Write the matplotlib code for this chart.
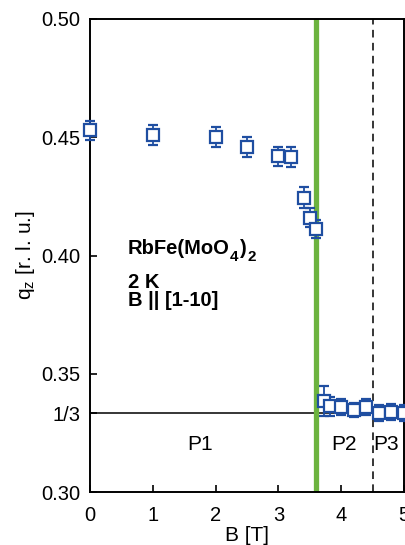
import matplotlib
matplotlib.use('Agg')
import matplotlib.pyplot as plt

plt.rcParams['font.family'] = ['Liberation Sans', 'DejaVu Sans']
plt.rcParams['mathtext.fontset'] = 'custom'
plt.rcParams['mathtext.rm'] = 'Liberation Sans'
plt.rcParams['mathtext.bf'] = 'Liberation Sans:bold'

# field B [T], q_z [r.l.u.], error
field = [0.0, 1.0, 2.0, 2.5, 3.0, 3.2, 3.4, 3.5, 3.6,
         3.73, 3.82, 4.0, 4.2, 4.4, 4.6, 4.8, 5.0]
qz = [0.4530, 0.4510, 0.4500, 0.4460, 0.4420, 0.4415, 0.4245, 0.4160, 0.4110,
      0.3385, 0.3362, 0.3358, 0.3348, 0.3360, 0.3335, 0.3338, 0.3333]
qz_err = [0.0040, 0.0042, 0.0042, 0.0042, 0.0040, 0.0042, 0.0045, 0.0040, 0.0038,
          0.0065, 0.0040, 0.0034, 0.0030, 0.0034, 0.0034, 0.0034, 0.0034]

yticks = [0.30, 1/3, 0.35, 0.40, 0.45, 0.50]
yticklabels = ['0.30', '1/3', '0.35', '0.40', '0.45', '0.50']
xticks = [0, 1, 2, 3, 4, 5]

B_c1 = 3.6
B_c2 = 4.5

fig = plt.figure(figsize=(4.06, 5.45), dpi=100)
ax = fig.add_axes([90/406, 53/545, 314/406, 473/545])

ax.axhline(1/3, color='black', lw=1.1, zorder=1)
ax.axvline(B_c1, color='#6cb33f', lw=3.8, zorder=2)
ax.axvline(B_c2, color='black', lw=1.1, ls=(0, (5, 3.5)), zorder=1)

ax.errorbar(field, qz, yerr=qz_err, fmt='s', ms=9, mfc='white',
            mec='#1f4ea1', mew=1.6, ecolor='#1f4ea1', elinewidth=1.3,
            capsize=3.5, capthick=1.3, zorder=3, clip_on=False)

ax.set_xlim(0, 5)
ax.set_ylim(0.30, 0.50)
ax.set_xticks(xticks)
ax.set_yticks(yticks)
ax.set_yticklabels(yticklabels)
ax.tick_params(direction='in', length=5, width=1.2, labelsize=14.5)
ax.tick_params(axis='x', pad=10)
ax.tick_params(axis='y', pad=7)
for s in ax.spines.values():
    s.set_linewidth(1.4)

ax.set_xlabel('B [T]', fontsize=15, labelpad=1)
ax.set_ylabel(r'q$_\mathregular{z}$ [r. l. u.]', fontsize=15, labelpad=3)

bold = dict(fontsize=14.5, fontweight='bold')
t = ax.text(0.6, 0.4008, 'RbFe(MoO', **bold)
fig.canvas.draw()
bb = t.get_window_extent().transformed(ax.transData.inverted())
x1 = bb.x1
ax.text(x1 + 0.01, 0.3976, '4', fontsize=11, fontweight='bold')
ax.text(x1 + 0.17, 0.4008, ')', **bold)
ax.text(x1 + 0.28, 0.3976, '2', fontsize=11, fontweight='bold')
ax.text(0.6, 0.3862, '2 K', **bold)
ax.text(0.6, 0.3786, 'B || [1-10]', **bold)

ax.text(1.75, 0.3199, 'P1', fontsize=15, ha='center', va='center')
ax.text(4.04, 0.3199, 'P2', fontsize=15, ha='center', va='center')
ax.text(4.72, 0.3199, 'P3', fontsize=15, ha='center', va='center')

fig.savefig('out.png', dpi=100)
